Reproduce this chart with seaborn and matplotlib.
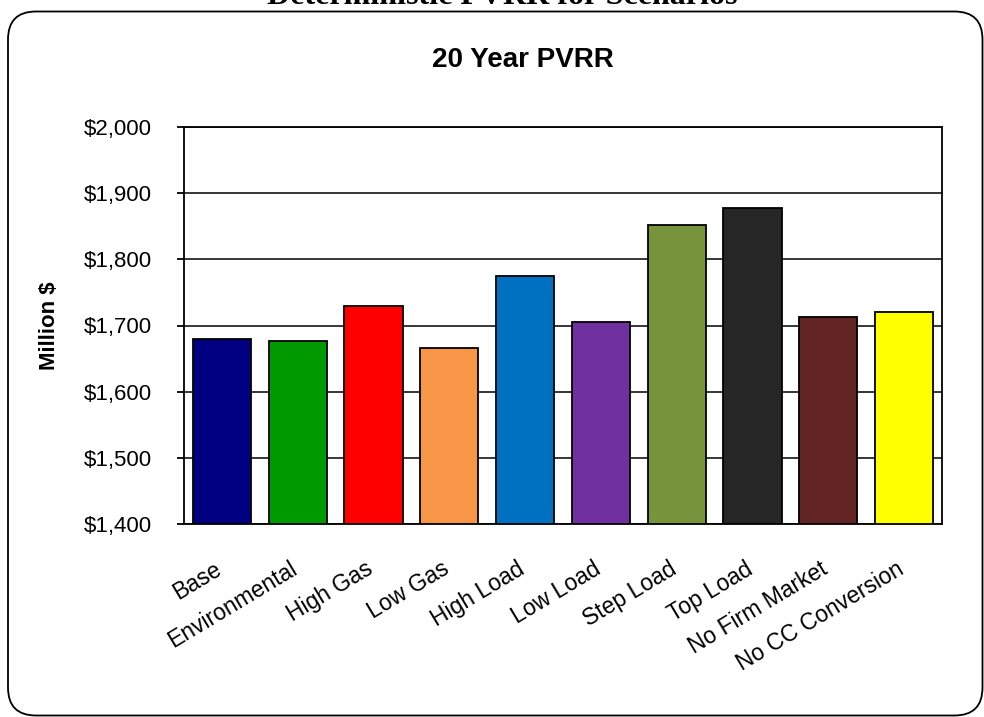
import matplotlib
matplotlib.use("Agg")
import matplotlib.pyplot as plt
import matplotlib.ticker as mticker
import matplotlib.transforms as mtransforms
from matplotlib.patches import FancyBboxPatch
import seaborn as sns
import numpy as np

scenarios = ["Base", "Environmental", "High Gas", "Low Gas", "High Load",
             "Low Load", "Step Load", "Top Load", "No Firm Market", "No CC Conversion"]
pvrr = [1680, 1677, 1730, 1666, 1775, 1705, 1852, 1878, 1713, 1721]
colors = ["#000080", "#009900", "#FF0000", "#F79646", "#0070C0",
          "#7030A0", "#77933C", "#262626", "#632523", "#FFFF00"]

sns.set_style("white")
plt.rcParams['font.family'] = ['Liberation Sans', 'DejaVu Sans']
plt.rcParams['text.color'] = 'black'
plt.rcParams['axes.labelcolor'] = 'black'
plt.rcParams['xtick.color'] = 'black'
plt.rcParams['ytick.color'] = 'black'

fig = plt.figure(figsize=(9.84, 7.17), dpi=100)
ax = fig.add_axes([184/984, 1-524/717, (942-184)/984, (524-127)/717])

sns.barplot(x=scenarios, y=pvrr, hue=scenarios, palette=colors, legend=False,
            edgecolor="black", linewidth=1.3, width=0.77, saturation=1, ax=ax)

ax.set_ylim(1400, 2000)
ax.set_xlim(-0.5, len(scenarios) - 0.5)
ax.yaxis.set_major_locator(mticker.MultipleLocator(100))
ax.yaxis.set_major_formatter(mticker.StrMethodFormatter("${x:,.0f}"))
ax.grid(axis="y", color="black", linewidth=1.1)
ax.set_axisbelow(True)
for s in ax.spines.values():
    s.set_color("black")
    s.set_linewidth(1.3)

# excel style ticks between categories
ax.set_xticks(np.arange(len(scenarios)))
ax.set_xticks(np.arange(-0.5, len(scenarios)), minor=True)
ax.tick_params(axis="x", which="major", length=0, pad=24)
ax.tick_params(axis="x", which="minor", length=5, width=1.3, color="black", direction="out")
ax.tick_params(axis="y", length=5, width=1.3, color="black", direction="out", left=True, pad=18,
               labelsize=16)
ax.set_xticklabels(scenarios, rotation=31, ha="right", va="top", rotation_mode="anchor",
                   fontsize=16.5)
shift = mtransforms.ScaledTranslation(-0.08, 0, fig.dpi_scale_trans)
for lbl in ax.get_xticklabels():
    lbl.set_transform(lbl.get_transform() + shift)

ax.set_ylabel("Million $", fontsize=16, fontweight="bold")
ax.yaxis.set_label_coords(-0.163, 0.5)
ax.set_xlabel("")

fig.text(523/984, 1-67/717, "20 Year PVRR", ha="center", va="baseline",
         fontsize=20, fontweight="bold")
fig.text(502/984, 1-4/717, "Deterministic PVRR for Scenarios", ha="center", va="baseline",
         fontsize=23, fontweight="bold", family=["Liberation Serif", "DejaVu Serif"])

border = FancyBboxPatch((0.08, 0.015), 9.745, 7.04, boxstyle="round,pad=0,rounding_size=0.28",
                        transform=fig.dpi_scale_trans, fill=False, edgecolor="black",
                        linewidth=1.3)
fig.patches.append(border)

fig.savefig("out.png", dpi=100)
